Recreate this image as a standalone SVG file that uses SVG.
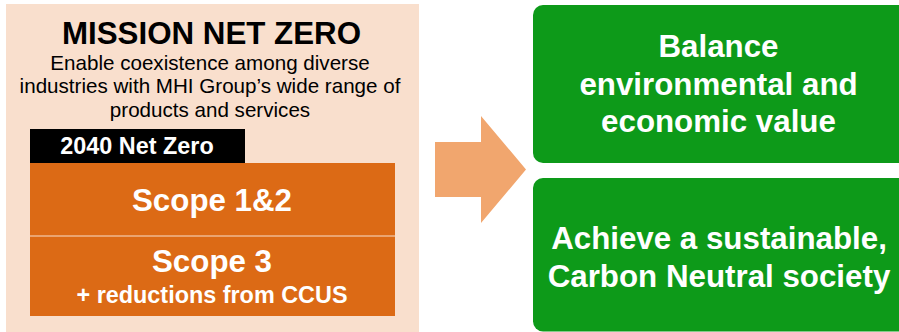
<svg xmlns="http://www.w3.org/2000/svg" width="899" height="332" viewBox="0 0 899 332">
<style>
.t{font-family:"Liberation Sans",Arial,sans-serif;text-anchor:middle}
.b{font-weight:bold}
.w{fill:#ffffff}
.k{fill:#000000}
.big{font-size:31.3px}
.sm{font-size:23.4px}
.reg{font-size:20.6px}
.orange{fill:#DC6A15}
.green{fill:#0D9A19}
</style>
<rect x="0" y="0" width="899" height="332" fill="#ffffff"/>
<g id="mission">
<rect x="6" y="4" width="413" height="330" fill="#F9DFCD"/>
<text class="t b k big" x="211.5" y="44">MISSION NET ZERO</text>
<text class="t k reg" x="210" y="69.8">Enable coexistence among diverse</text>
<text class="t k reg" x="210" y="93">industries with MHI Group’s wide range of</text>
<text class="t k reg" x="210" y="116.5">products and services</text>
</g>
<g id="netzero2040">
<rect x="30" y="129" width="215" height="34" fill="#000000"/>
<text class="t b w sm" x="137" y="154">2040 Net Zero</text>
</g>
<g id="scope12">
<rect class="orange" x="30" y="163" width="365" height="72.5"/>
<text class="t b w big" x="212" y="211">Scope 1&amp;2</text>
</g>
<g id="scope3">
<rect class="orange" x="30" y="236.5" width="365" height="79.5"/>
<text class="t b w big" x="212" y="272">Scope 3</text>
<text class="t b w sm" x="212" y="303">+ reductions from CCUS</text>
</g>
<g id="connectors">
<polygon points="435,142 481,142 481,116 526,169.5 481,223 481,197 435,197" fill="#F1A66E"/>
</g>
<g id="balance">
<rect class="green" x="533" y="5" width="375" height="158" rx="10"/>
<text class="t b w big" x="718.5" y="57">Balance</text>
<text class="t b w big" x="718.5" y="94.5">environmental and</text>
<text class="t b w big" x="718.5" y="132">economic value</text>
</g>
<g id="sustainable">
<rect class="green" x="533" y="178" width="375" height="153.5" rx="10"/>
<text class="t b w big" x="719" y="249">Achieve a sustainable,</text>
<text class="t b w big" x="719" y="287">Carbon Neutral society</text>
</g>
</svg>
